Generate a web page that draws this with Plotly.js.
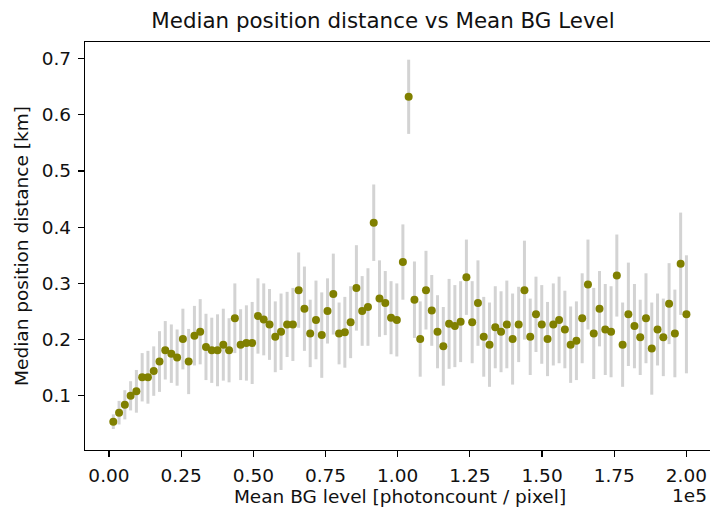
<!DOCTYPE html>
<html>
<head>
<meta charset="utf-8">
<script src="https://cdn.plot.ly/plotly-3.0.1.min.js"></script>
<style>
html,body{margin:0;padding:0;background:#fff;overflow:hidden;width:710px;height:508px;}
#chart{width:720px;height:508px;}
</style>
</head>
<body>
<div id="chart"></div>
<script>
// Mean BG level in units of 1e5 photoncount / pixel
const bgLevel = [
0.015,0.035,0.055,0.075,0.095,0.115,0.135,0.155,0.175,0.195,
0.216,0.236,0.256,0.276,0.296,0.316,0.336,0.356,0.376,0.396,
0.416,0.436,0.456,0.476,0.496,0.516,0.536,0.556,0.576,0.596,
0.617,0.637,0.657,0.677,0.697,0.717,0.737,0.757,0.777,0.797,
0.817,0.837,0.857,0.877,0.897,0.917,0.937,0.957,0.977,0.997,
1.018,1.038,1.058,1.078,1.098,1.118,1.138,1.158,1.178,1.198,
1.218,1.238,1.258,1.278,1.298,1.318,1.338,1.358,1.378,1.398,
1.419,1.439,1.459,1.479,1.499,1.519,1.539,1.559,1.579,1.599,
1.619,1.639,1.659,1.679,1.699,1.719,1.739,1.759,1.779,1.799,
1.820,1.840,1.860,1.880,1.900,1.920,1.940,1.960,1.980,2.000
];
// Median position distance [km]
const medianDist = [
0.054,0.070,0.084,0.100,0.108,0.133,0.133,0.144,0.161,0.181,
0.175,0.168,0.201,0.161,0.207,0.214,0.187,0.181,0.181,0.191,
0.181,0.238,0.191,0.194,0.194,0.242,0.236,0.227,0.205,0.214,
0.227,0.227,0.288,0.255,0.211,0.235,0.208,0.251,0.281,0.211,
0.213,0.231,0.292,0.251,0.258,0.408,0.273,0.265,0.239,0.235,
0.338,0.632,0.271,0.201,0.288,0.252,0.214,0.188,0.228,0.224,
0.232,0.311,0.231,0.265,0.205,0.191,0.222,0.214,0.227,0.201,
0.227,0.288,0.205,0.245,0.227,0.201,0.227,0.235,0.218,0.191,
0.198,0.238,0.298,0.211,0.255,0.218,0.214,0.314,0.191,0.245,
0.224,0.204,0.238,0.184,0.218,0.204,0.264,0.211,0.335,0.245
];
// Error (half-length of bars) [km]
const distErr = [
0.013,0.021,0.026,0.026,0.038,0.043,0.047,0.044,0.054,0.052,
0.052,0.050,0.054,0.058,0.053,0.058,0.059,0.058,0.064,0.064,
0.057,0.062,0.063,0.067,0.073,0.067,0.064,0.063,0.063,0.068,
0.058,0.065,0.067,0.075,0.060,0.070,0.076,0.058,0.072,0.055,
0.063,0.064,0.076,0.062,0.069,0.068,0.068,0.057,0.065,0.065,
0.067,0.066,0.068,0.067,0.070,0.063,0.065,0.070,0.080,0.073,
0.072,0.067,0.073,0.076,0.071,0.075,0.073,0.072,0.078,0.081,
0.067,0.088,0.068,0.067,0.070,0.066,0.073,0.077,0.069,0.068,
0.070,0.080,0.080,0.081,0.067,0.081,0.081,0.073,0.075,0.092,
0.075,0.067,0.080,0.082,0.064,0.069,0.072,0.078,0.091,0.105
];
const xTicks = [0, 0.25, 0.5, 0.75, 1.0, 1.25, 1.5, 1.75, 2.0];
const yTicks = [0.1, 0.2, 0.3, 0.4, 0.5, 0.6, 0.7];

const FONT = 'DejaVu Sans, sans-serif';
const FS = 18.5;

const trace = {
  x: bgLevel,
  y: medianDist,
  type: 'scatter',
  mode: 'markers',
  marker: {color: '#808000', size: 8},
  error_y: {type: 'data', array: distErr, visible: true, color: 'lightgray', thickness: 3, width: 0},
  hoverinfo: 'x+y'
};

const axisCommon = {
  showgrid: false, zeroline: false, showline: true, linecolor: '#000', linewidth: 1.2,
  mirror: true, ticks: 'outside', ticklen: 6, tickwidth: 1.2, tickcolor: '#000',
  ticklabelstandoff: 3,
  tickfont: {family: FONT, size: FS, color: '#111'}
};

const layout = {
  width: 720, height: 508,
  margin: {l: 85, r: 5, t: 42, b: 58},
  paper_bgcolor: '#fff', plot_bgcolor: '#fff',
  showlegend: false,
  title: {text: 'Median position distance vs Mean BG Level', font: {family: FONT, size: 21.4, color: '#111'},
          xref: 'container', x: 383/720, xanchor: 'center', yref: 'container', y: 1 - 21/508, yanchor: 'middle'},
  xaxis: Object.assign({}, axisCommon, {
    range: [-0.083, 2.099], tickvals: xTicks, tickformat: '.2f',
    title: {text: 'Mean BG level [photoncount / pixel]', font: {family: FONT, size: FS, color: '#111'}, standoff: 2}
  }),
  yaxis: Object.assign({}, axisCommon, {
    range: [0.0036, 0.7295], tickvals: yTicks, tickformat: '.1f',
    title: {text: 'Median position distance [km]', font: {family: FONT, size: FS, color: '#111'}, standoff: 8}
  }),
  annotations: [{
    text: '1e5', xref: 'paper', yref: 'paper', x: (709-85)/630, y: -0.111,
    xanchor: 'right', yanchor: 'middle', showarrow: false,
    font: {family: FONT, size: FS, color: '#111'}
  }]
};

Plotly.newPlot('chart', [trace], layout, {staticPlot: true, displayModeBar: false});
</script>
</body>
</html>
